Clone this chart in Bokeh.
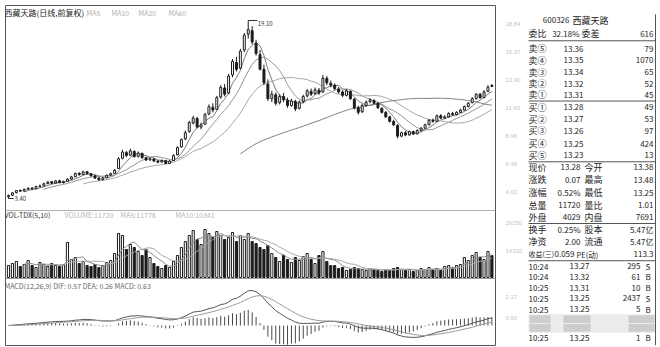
import numpy as np
import pandas as pd
from bokeh.plotting import figure
from bokeh.layouts import row
from bokeh.models import Range1d, LinearAxis, FixedTicker, Span, CustomJSTickFormatter
from bokeh.core.properties import value
from bokeh.embed import file_html
from bokeh.resources import INLINE

FONT = value("Noto Sans CJK SC")

# ---- daily bars, 600326 西藏天路 (前复权) ----
opens = [3.55, 3.68, 3.92, 4.12, 4.05, 4.22, 4.32, 4.26, 4.46, 4.52,
         4.72, 4.88, 4.76, 4.96, 4.80, 4.92, 5.12, 5.32, 5.62, 5.52,
         5.76, 5.58, 5.40, 5.20, 5.06, 5.22, 5.46, 5.62, 6.05, 6.95,
         7.45, 7.22, 7.55, 7.12, 7.38, 7.00, 6.80, 6.88, 6.70, 6.62,
         6.74, 6.50, 6.75, 7.25, 7.95, 8.65, 9.30, 10.05, 10.45, 9.70,
         9.95, 10.85, 11.45, 11.25, 12.35, 13.15, 12.70, 14.30, 15.40, 14.90,
         16.50, 17.90, 18.20, 17.10, 16.10, 14.80, 13.50, 12.20, 12.55, 11.85,
         12.40, 12.05, 11.60, 11.95, 11.35, 11.95, 12.45, 12.85, 12.65, 12.95,
         12.80, 14.00, 13.55, 13.40, 13.05, 12.80, 12.50, 12.85, 12.15, 11.40,
         11.05, 11.60, 11.95, 12.05, 11.80, 11.35, 11.00, 10.60, 10.20, 9.85,
         8.90, 9.20, 9.00, 9.30, 9.10, 9.40, 9.60, 9.90, 10.30, 10.20,
         10.70, 10.50, 10.60, 10.90, 10.80, 11.00, 11.20, 11.50, 11.85, 12.20,
         12.60, 12.30, 12.85, 13.38]
highs = [3.75, 3.95, 4.15, 4.18, 4.28, 4.38, 4.40, 4.52, 4.62, 4.80,
         4.95, 4.92, 5.02, 5.05, 4.98, 5.18, 5.40, 5.70, 5.72, 5.85,
         5.82, 5.66, 5.48, 5.30, 5.28, 5.52, 5.68, 6.00, 7.05, 7.70,
         7.60, 7.80, 7.65, 7.55, 7.45, 7.08, 7.02, 6.95, 6.78, 6.85,
         6.80, 6.78, 7.30, 8.00, 8.70, 9.40, 10.25, 10.70, 10.60, 10.10,
         10.95, 11.70, 11.80, 12.45, 13.40, 13.50, 14.40, 15.70, 15.90, 16.60,
         18.00, 19.10, 18.60, 17.40, 16.50, 15.20, 13.90, 12.90, 12.75, 12.60,
         12.70, 12.30, 12.20, 12.10, 12.05, 12.55, 13.05, 13.10, 13.20, 13.15,
         14.30, 14.20, 13.80, 13.55, 13.25, 12.95, 13.05, 12.95, 12.25, 11.60,
         11.75, 12.05, 12.25, 12.15, 11.90, 11.45, 11.10, 10.70, 10.35, 9.95,
         9.30, 9.35, 9.40, 9.38, 9.50, 9.70, 10.00, 10.40, 10.45, 10.80,
         10.85, 10.75, 11.00, 11.05, 11.10, 11.30, 11.60, 11.90, 12.35, 12.70,
         12.70, 12.95, 13.40, 13.48]
lows = [3.40, 3.62, 3.85, 3.98, 4.00, 4.15, 4.18, 4.22, 4.38, 4.48,
        4.65, 4.68, 4.70, 4.74, 4.72, 4.88, 5.05, 5.28, 5.42, 5.48,
        5.52, 5.34, 5.12, 4.96, 5.00, 5.18, 5.40, 5.58, 6.00, 6.85,
        7.05, 7.15, 7.00, 7.02, 6.92, 6.70, 6.75, 6.62, 6.50, 6.55,
        6.42, 6.46, 6.70, 7.20, 7.88, 8.55, 9.20, 9.95, 9.60, 9.50,
        9.90, 10.75, 11.00, 11.20, 12.20, 12.40, 12.60, 14.10, 14.60, 14.80,
        16.30, 17.50, 17.00, 16.00, 14.70, 13.40, 12.00, 11.90, 11.60, 11.70,
        11.90, 11.40, 11.50, 11.10, 11.25, 11.80, 12.30, 12.45, 12.55, 12.55,
        12.70, 13.40, 13.20, 12.95, 12.65, 12.35, 12.40, 12.10, 11.25, 10.80,
        10.95, 11.50, 11.80, 11.70, 11.30, 10.90, 10.50, 10.10, 9.80, 8.70,
        8.80, 8.90, 8.95, 9.00, 9.05, 9.30, 9.55, 9.85, 10.10, 10.15,
        10.40, 10.40, 10.55, 10.70, 10.75, 10.95, 11.15, 11.45, 11.80, 12.15,
        12.20, 12.25, 12.80, 13.25]
closes = [3.66, 3.90, 4.10, 4.05, 4.20, 4.30, 4.25, 4.45, 4.50, 4.70,
          4.85, 4.75, 4.95, 4.80, 4.90, 5.10, 5.30, 5.60, 5.50, 5.75,
          5.60, 5.40, 5.20, 5.05, 5.20, 5.45, 5.60, 5.90, 6.90, 7.50,
          7.20, 7.60, 7.10, 7.40, 7.00, 6.80, 6.90, 6.70, 6.60, 6.75,
          6.50, 6.70, 7.20, 7.90, 8.60, 9.20, 10.10, 10.50, 9.70, 9.90,
          10.80, 11.50, 11.20, 12.30, 13.20, 12.60, 14.20, 15.50, 14.80, 16.40,
          17.80, 18.30, 17.20, 16.20, 14.80, 13.60, 12.20, 12.60, 11.80, 12.40,
          12.10, 11.60, 12.00, 11.30, 11.90, 12.40, 12.90, 12.60, 13.00, 12.70,
          14.00, 13.60, 13.40, 13.10, 12.80, 12.50, 12.90, 12.20, 11.40, 11.00,
          11.60, 11.90, 12.10, 11.80, 11.40, 11.00, 10.60, 10.20, 9.90, 8.90,
          9.20, 9.00, 9.30, 9.10, 9.40, 9.60, 9.90, 10.30, 10.20, 10.70,
          10.50, 10.60, 10.90, 10.80, 11.00, 11.20, 11.50, 11.80, 12.20, 12.60,
          12.30, 12.80, 13.21, 13.28]
volumes = [6360, 7420, 8480, 5830, 6890, 9010, 6360, 5300, 7950, 6890,
           5830, 7420, 6360, 5830, 6890, 18550, 9540, 10600, 7420, 8480,
           6360, 5830, 6890, 5300, 6360, 7950, 9010, 12720, 23320, 22260,
           14840, 17490, 15900, 13780, 11660, 14840, 10600, 7420, 5830, 4770,
           6360, 5300, 8480, 11660, 15900, 19080, 22260, 24910, 20140, 17490,
           25440, 23320, 21200, 24380, 22260, 20140, 21200, 23850, 19080, 22260,
           20140, 23320, 19080, 18020, 15900, 14840, 16960, 12720, 10600, 8480,
           11660, 9540, 7950, 10600, 9010, 11130, 12720, 9540, 7420, 11660,
           13780, 8480, 6360, 6360, 4770, 5300, 3710, 4240, 5300, 4770,
           4240, 3710, 4770, 4240, 3710, 3180, 4240, 3710, 4770, 5300,
           4240, 3710, 4240, 3180, 3710, 4770, 4240, 5300, 4240, 4770,
           3710, 5830, 6360, 5300, 6360, 6890, 10600, 9010, 11660, 13250,
           10600, 9540, 13780, 11720]

# ---- quote panel ----
book_labels = ["卖⑤", "卖④", "卖③", "卖②", "卖①", "买①", "买②", "买③", "买④", "买⑤"]
book_prices = ["13.36", "13.35", "13.34", "13.32", "13.31", "13.28", "13.27", "13.26", "13.25", "13.23"]
book_qty = ["79", "1070", "65", "52", "45", "49", "53", "97", "424", "13"]
stat_names_1 = ["现价", "涨跌", "涨幅", "总量", "外盘", "换手", "净资"]
stat_vals_1 = [f"{closes[-1]:.2f}", "0.07", "0.52%", f"{volumes[-1]}", "4029", "0.25%", "2.00"]
stat_names_2 = ["今开", "最高", "最低", "量比", "内盘", "股本", "流通"]
stat_vals_2 = [f"{opens[-1]:.2f}", f"{highs[-1]:.2f}", f"{lows[-1]:.2f}", "1.01", "7691", "5.47亿", "5.47亿"]
eps_row = ["收益(三)", "0.059", "PE(动)", "113.3"]
trade_time = ["10:24", "10:24", "10:25", "10:25", "10:25", "10:25"]
trade_price = ["13.27", "13.32", "13.31", "13.25", "13.25", "13.25"]
trade_qty = ["295", "61", "10", "2437", "5", "1"]
trade_side = ["S", "B", "B", "S", "B", "B"]

# ---- indicators ----
o = np.array(opens); h = np.array(highs); l = np.array(lows); c = np.array(closes)
vol = np.array(volumes, dtype=float)
x = np.arange(len(c))
up = c >= o

cs = pd.Series(closes)
ma = {w: cs.rolling(w).mean() for w in (5, 10, 20, 60)}
vs = pd.Series(vol)
vma5 = vs.rolling(5).mean()
vma10 = vs.rolling(10).mean()
dif = cs.ewm(span=12, adjust=False).mean() - cs.ewm(span=26, adjust=False).mean()
dea = dif.ewm(span=9, adjust=False).mean()
hist = 2 * (dif - dea)

# ---- vertical layout (canvas rows, px from top) ----
TOP, BOTTOM = 5, 345
HI_ROW, LO_ROW = 20, 198
VOL_BASE, VOL_MAX_ROW = 277, 229
MACD_ZERO, MACD_MAX_ROW = 325, 290

lo, hi = float(l.min()), float(h.max())
k = (hi - lo) / (LO_ROW - HI_ROW)
kv = vol.max() / (VOL_BASE - VOL_MAX_ROW)
km = float(dif.max()) / (MACD_ZERO - MACD_MAX_ROW)


def price_at(r):
    return lo + (LO_ROW - r) * k


def vol_at(r):
    return (VOL_BASE - r) * kv


def macd_at(r):
    return (MACD_ZERO - r) * km


def col(px):
    return (px - 8) / 3.93


INK = "#1c1c1c"
BODY = 0.5

p = figure(width=527, height=347, x_range=Range1d(col(5), col(495)),
           y_range=Range1d(price_at(BOTTOM), price_at(TOP)),
           x_axis_type=None, y_axis_type=None, output_backend="svg",
           toolbar_location=None, min_border_left=5, min_border_right=32,
           min_border_top=5, min_border_bottom=2)
p.extra_y_ranges = {"vol": Range1d(vol_at(BOTTOM), vol_at(TOP)),
                    "macd": Range1d(macd_at(BOTTOM), macd_at(TOP))}
p.outline_line_color = "#555555"
p.background_fill_color = "white"
p.border_fill_color = "white"

# moving averages (under the candles)
for w, colr in ((5, "#7a7a7a"), (10, "#959595"), (20, "#a8a8a8"), (60, "#808080")):
    p.line(x, ma[w], line_color=colr, line_width=1)

# candles
p.segment(x, l, x, h, line_color=INK, line_width=1)
p.vbar(x[up], BODY, c[up], o[up], fill_color="white", line_color=INK, line_width=1)
p.vbar(x[~up], BODY, o[~up], c[~up], fill_color=INK, line_color=INK, line_width=1)

# high / low marks
ih, il = int(np.argmax(h)), int(np.argmin(l))
p.segment([ih, il], [hi, lo], [ih + 2.3, il + 1.3], [hi, lo], line_color="#333333", line_width=1)
p.text([ih + 2.4, il + 1.5], [price_at(HI_ROW + 3), lo], text=[f"{hi:.2f}", f"{lo:.2f}"],
       text_font=FONT, text_font_size="6px", text_baseline="middle", text_color="#333333")

# headers
p.text([col(4)], [price_at(12)], text=["西藏天路(日线,前复权)"], text_font=FONT,
       text_font_size="8px", text_baseline="middle", text_color="#222222")
p.text([col(px) for px in (86, 111, 138, 168)], [price_at(12)] * 4,
       text=["MA5", "MA10", "MA20", "MA60"], text_font=FONT, text_font_size="7px",
       text_baseline="middle", text_color="#b0b0b0")

# volume
p.vbar(x[up], 0.55, vol[up], 0, y_range_name="vol", fill_color="white", line_color=INK, line_width=1)
p.vbar(x[~up], 0.55, vol[~up], 0, y_range_name="vol", fill_color=INK, line_color=INK, line_width=1)
p.line(x, vma5, y_range_name="vol", line_color="#8a8a8a", line_width=1)
p.line(x, vma10, y_range_name="vol", line_color="#a8a8a8", line_width=1)
p.text([col(4)], [vol_at(214)], text=["VOL-TDX(5,10)"], y_range_name="vol", text_font=FONT,
       text_font_size="7px", text_baseline="middle", text_color="#333333")
p.text([col(64), col(120), col(175)], [vol_at(214)] * 3,
       text=[f"VOLUME:{volumes[-1]}", f"MA5:{vma5.iloc[-1]:.0f}", f"MA10:{vma10.iloc[-1]:.0f}"],
       y_range_name="vol", text_font=FONT, text_font_size="7px", text_baseline="middle",
       text_color="#b8b8b8")

# MACD
p.segment(x, 0, x, hist, y_range_name="macd", line_color="#4a4a4a", line_width=1)
p.line(x, dif, y_range_name="macd", line_color="#555555", line_width=1)
p.line(x, dea, y_range_name="macd", line_color="#9a9a9a", line_width=1)
p.text([col(4)], [macd_at(285)],
       text=[f"MACD(12,26,9) DIF: {dif.iloc[-1]:.2f} DEA: {dea.iloc[-1]:.2f} MACD: {hist.iloc[-1]:.2f}"],
       y_range_name="macd", text_font=FONT, text_font_size="7px", text_baseline="middle",
       text_color="#666666")

# panel separators
p.add_layout(Span(location=vol_at(210), dimension="width", y_range_name="vol",
                  line_color="#b0b0b0", line_width=1))
p.add_layout(Span(location=vol_at(278), dimension="width", y_range_name="vol",
                  line_color="#9a9a9a", line_width=1))

# faint scale on the right of all three panels
tick_rows = [23, 51, 79, 107, 135, 163, 191, 222, 250, 296, 317]
fmt = CustomJSTickFormatter(
    args=dict(lo=lo, k=k, kv=kv, km=km, lo_row=LO_ROW, vb=VOL_BASE, mz=MACD_ZERO),
    code="""
    const r = lo_row - (tick - lo) / k;
    if (r < 205) { return tick.toFixed(2); }
    if (r < 281) { return Math.round((vb - r) * kv).toString(); }
    return ((mz - r) * km).toFixed(2);
    """)
axis = LinearAxis(ticker=FixedTicker(ticks=[price_at(r) for r in tick_rows]), formatter=fmt,
                  axis_line_color=None, major_tick_line_color=None, minor_tick_line_color=None,
                  major_label_text_color="#c4c4c4", major_label_text_font_size="6px",
                  major_label_standoff=4)
p.add_layout(axis, "right")

# ---- quote panel figure ----
q = figure(width=133, height=347, x_range=Range1d(527, 660), y_range=Range1d(347, 0),
           x_axis_type=None, y_axis_type=None, output_backend="svg",
           toolbar_location=None, min_border=0)
q.outline_line_color = None
q.background_fill_color = "white"
q.border_fill_color = "white"

TXT = "#1e1e1e"


def put(xs, ys, texts, align="left", size="9px", color=TXT):
    q.text(xs, ys, text=texts, text_align=align, text_baseline="middle",
           text_font=FONT, text_font_size=size, text_color=color)


put([569], [15], ["600326"], align="right", size="8px")
put([572], [15], ["西藏天路"], size="9px")
put([528], [29], ["委比"])
put([579], [29], ["32.18%"], align="right", size="8px")
put([581], [29], ["委差"])
put([653], [29], ["616"], align="right", size="8px")

book_rows = [44, 56, 68, 80, 91, 104, 116, 128, 141, 153]
put([528] * 10, book_rows, book_labels)
put([583] * 10, book_rows, book_prices, align="right", size="8px")
put([653] * 10, book_rows, book_qty, align="right", size="8px")

stat_rows = [165, 178, 191, 204, 216, 229, 241]
put([528] * 7, stat_rows, stat_names_1)
put([580] * 7, stat_rows, stat_vals_1, align="right", size="8px")
put([584] * 7, stat_rows, stat_names_2)
put([653] * 7, stat_rows, stat_vals_2, align="right", size="8px")
put([528], [254], [eps_row[0]], size="7px")
put([574], [254], [eps_row[1]], align="right", size="8px")
put([576], [254], [eps_row[2]], size="7.5px")
put([653], [254], [eps_row[3]], align="right", size="8px")

trade_rows = [266, 277, 288, 299, 310, 339]
put([528] * 6, trade_rows, trade_time, size="8px")
put([589] * 6, trade_rows, trade_price, align="right", size="8px")
put([640] * 6, trade_rows, trade_qty, align="right", size="8px")
put([645] * 6, trade_rows, trade_side, size="8px")

# masked rows of the trade list
q.quad(left=[528], right=[655], top=[315], bottom=[334], fill_color="#ececec", line_color=None)
q.quad(left=[529, 529, 563, 563, 628, 628], right=[550, 550, 590, 590, 654, 654],
       top=[316, 325, 316, 325, 316, 325], bottom=[324, 333, 324, 333, 324, 333],
       fill_color="#b4b4b4", fill_alpha=0.55, line_color=None)

# panel rules
q.segment([528] * 5, [36, 97.5, 159.5, 222.5, 260.5], [655] * 5, [36, 97.5, 159.5, 222.5, 260.5],
          line_color="#555555", line_width=1)
q.segment([655], [9], [655], [347], line_color="#555555", line_width=1)

layout = row(p, q)
open("out.html", "w").write(file_html(layout, INLINE))
